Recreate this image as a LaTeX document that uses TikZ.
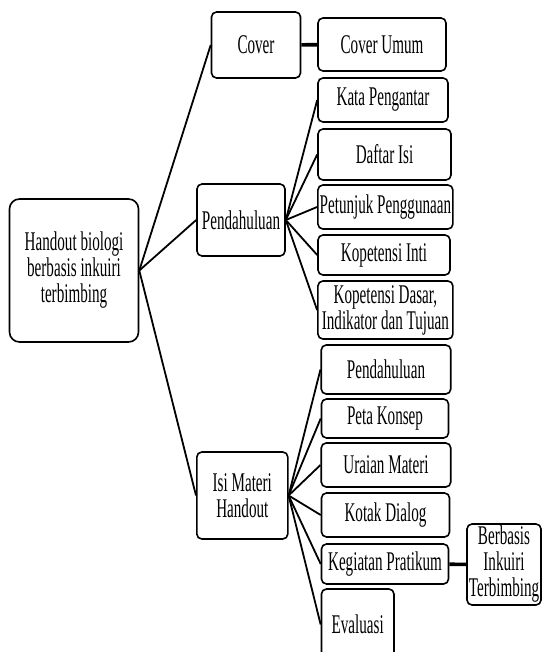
\documentclass[tikz,border=0pt]{standalone}
\usepackage{fontspec}
\setmainfont{Liberation Serif}[FakeStretch=0.56]

\begin{document}
\begin{tikzpicture}[x=1pt, y=-1pt,
  every node/.style={font=\fontsize{27}{26}\selectfont},
  box/.style={draw, line width=1.6pt, rounded corners=5pt, align=center, inner sep=0pt},
  link/.style={line width=1.8pt},
  heavy link/.style={line width=3.6pt}]
\useasboundingbox (0,0) rectangle (542,652);

% root and the three parts
\node[box, rounded corners=10pt, minimum width=129pt, minimum height=143pt] (root) at (74,270.5) {Handout biologi\\berbasis inkuiri\\terbimbing};
\node[box, minimum width=89pt, minimum height=66pt] (cover) at (256,45) {Cover};
\node[box, minimum width=88pt, minimum height=72pt] (pend) at (241,220) {Pendahuluan};
\node[box, minimum width=91pt, minimum height=87pt] (isi) at (242.3,495.5) {Isi Materi\\Handout};

% cover
\node[box, minimum width=128pt, minimum height=53pt] (umum) at (382,44.5) {Cover Umum};

% pendahuluan
\node[box, minimum width=130pt, minimum height=44pt] (kata) at (383,100) {Kata Pengantar};
\node[box, minimum width=133pt, minimum height=51pt] (daftar) at (384.5,154.5) {Daftar Isi};
\node[box, minimum width=135pt, minimum height=44pt] (petunjuk) at (385.4,207) {Petunjuk Penggunaan};
\node[box, minimum width=132pt, minimum height=40pt] (inti) at (384,255) {Kopetensi Inti};
\node[box, minimum width=135pt, minimum height=58pt] (dasar) at (385.4,310) {Kopetensi Dasar,\\Indikator dan Tujuan};

% isi materi
\node[box, minimum width=129.5pt, minimum height=49pt] (pendb) at (386,369.5) {Pendahuluan};
\node[box, minimum width=127pt, minimum height=39pt] (peta) at (385,418.5) {Peta Konsep};
\node[box, minimum width=129.5pt, minimum height=44pt] (uraian) at (386,465) {Uraian Materi};
\node[box, minimum width=128pt, minimum height=44pt] (kotak) at (385.5,515) {Kotak Dialog};
\node[box, minimum width=127pt, minimum height=40pt] (kegiatan) at (385,564) {Kegiatan Pratikum};
\node[box, minimum width=72.5pt, minimum height=71pt] (evaluasi) at (357.7,624.5) {Evaluasi};
\node[box, minimum width=74pt, minimum height=81pt] (berbasis) at (504,564.5) {Berbasis\\Inkuiri\\Terbimbing};

\foreach \p in {cover,pend,isi}
   {
	\draw[link] (root.east) -- (\p.west);
   };
\foreach \c in {kata,daftar,petunjuk,inti,dasar}
   {
	\draw[link] (pend.east) -- (\c.west);
   };
\foreach \c in {pendb,peta,uraian,kotak,kegiatan,evaluasi}
   {
	\draw[link] (isi.east) -- (\c.west);
   };
\draw[heavy link] (cover) -- (umum);
\draw[heavy link] (kegiatan) -- (berbasis);
\end{tikzpicture}
\end{document}
